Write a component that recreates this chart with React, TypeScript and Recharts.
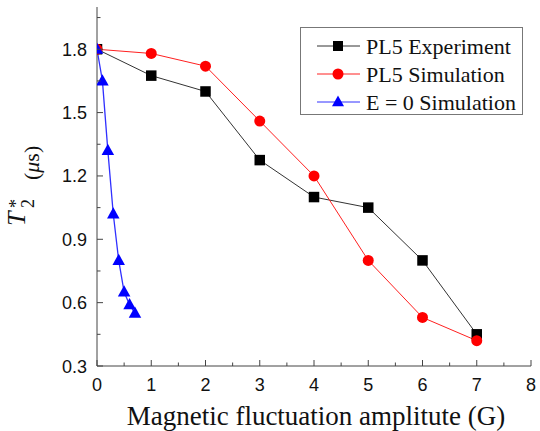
import React from 'react';
import { LineChart, Line, XAxis, YAxis, Legend } from 'recharts';

// ---- data ----
const experimentX = [0, 1, 2, 3, 4, 5, 6, 7];
const experimentY = [1.8, 1.675, 1.6, 1.275, 1.1, 1.05, 0.8, 0.45];

const simulationX = [0, 1, 2, 3, 4, 5, 6, 7];
const simulationY = [1.8, 1.78, 1.72, 1.46, 1.2, 0.8, 0.53, 0.42];

const e0X = [0, 0.1, 0.2, 0.3, 0.4, 0.5, 0.6, 0.7];
const e0Y = [1.8, 1.65, 1.32, 1.02, 0.8, 0.65, 0.59, 0.55];

const xTicks = [0, 0.5, 1, 1.5, 2, 2.5, 3, 3.5, 4, 4.5, 5, 5.5, 6, 6.5, 7, 7.5, 8];
const xMajorTicks = [0, 1, 2, 3, 4, 5, 6, 7, 8];
const yTicks = [0.3, 0.45, 0.6, 0.75, 0.9, 1.05, 1.2, 1.35, 1.5, 1.65, 1.8, 1.95];
const yMajorTicks = [0.3, 0.6, 0.9, 1.2, 1.5, 1.8];

const seriesNames = ['PL5 Experiment', 'PL5 Simulation', 'E = 0 Simulation'];
const xTitle = 'Magnetic fluctuation amplitute (G)';

const toPoints = (xs: number[], ys: number[]) => xs.map((x, i) => ({ x, y: ys[i] }));
const experimentData = toPoints(experimentX, experimentY);
const simulationData = toPoints(simulationX, simulationY);
const e0Data = toPoints(e0X, e0Y);

const SANS = '"Liberation Sans", Arial, sans-serif';
const SERIF = '"Liberation Serif", "Times New Roman", serif';
const AXIS = '#444';
const MAJOR = 6;
const MINOR = 3.5;

const isMajor = (v: number, list: number[]) => list.some((m) => Math.abs(m - v) < 1e-9);

const fmtY = (v: number) => v.toFixed(1);

const BottomTick = (props: any) => {
  const { x, y, payload } = props;
  const major = isMajor(payload.value, xMajorTicks);
  return (
    <g>
      <line x1={x} y1={y} x2={x} y2={y - (major ? MAJOR : MINOR)} stroke={AXIS} strokeWidth={1} />
      {major && (
        <text x={x} y={y + 25} textAnchor="middle" fontFamily={SANS} fontSize={18} fill="#111">
          {payload.value}
        </text>
      )}
    </g>
  );
};

const TopTick = (props: any) => {
  const { x, y, payload } = props;
  const major = isMajor(payload.value, xMajorTicks);
  return <line x1={x} y1={y} x2={x} y2={y + (major ? MAJOR : MINOR)} stroke={AXIS} strokeWidth={1} />;
};

const LeftTick = (props: any) => {
  const { x, y, payload } = props;
  const major = isMajor(payload.value, yMajorTicks);
  return (
    <g>
      <line x1={x} y1={y} x2={x + (major ? MAJOR : MINOR)} y2={y} stroke={AXIS} strokeWidth={1} />
      {major && (
        <text x={x - 10} y={y + 6.5} textAnchor="end" fontFamily={SANS} fontSize={18} fill="#111">
          {fmtY(payload.value)}
        </text>
      )}
    </g>
  );
};

const RightTick = (props: any) => {
  const { x, y, payload } = props;
  const major = isMajor(payload.value, yMajorTicks);
  return <line x1={x} y1={y} x2={x - (major ? MAJOR : MINOR)} y2={y} stroke={AXIS} strokeWidth={1} />;
};

const Square = ({ cx, cy, fill, s = 10.5 }: any) => (
  <rect x={cx - s / 2} y={cy - s / 2} width={s} height={s} fill={fill} />
);
const Circle = ({ cx, cy, fill, r = 5.5 }: any) => <circle cx={cx} cy={cy} r={r} fill={fill} />;
const Triangle = ({ cx, cy, fill, s = 12.5 }: any) => {
  const h = s * 0.9;
  return (
    <polygon
      points={`${cx},${cy - h * 0.6} ${cx - s / 2},${cy + h * 0.4} ${cx + s / 2},${cy + h * 0.4}`}
      fill={fill}
    />
  );
};

const squareDot = (p: any) => <Square key={`sq-${p.index}`} cx={p.cx} cy={p.cy} fill="#000" />;
const circleDot = (p: any) => <Circle key={`ci-${p.index}`} cx={p.cx} cy={p.cy} fill="#ff0000" />;
const triDot = (p: any) => <Triangle key={`tr-${p.index}`} cx={p.cx} cy={p.cy} fill="#0000ff" />;

const YTitle = () => (
  <text transform="rotate(-90)" fontFamily={SERIF} fill="#111" style={{ fontFamily: SERIF }}>
    <tspan x={-226} y={25} fontSize={26} fontStyle="italic">T</tspan>
    <tspan x={-208} y={34} fontSize={18}>2</tspan>
    <tspan x={-208} y={22} fontSize={18}>*</tspan>
    <tspan x={-180} y={39} fontSize={22}>(</tspan>
    <tspan fontSize={22} fontStyle="italic">μ</tspan>
    <tspan fontSize={22}>s)</tspan>
  </text>
);

const XTitle = () => (
  <text x={316} y={425} textAnchor="middle" fontFamily={SERIF} fontSize={27} fill="#111">
    {xTitle}
  </text>
);

const legendColors = ['#333', '#ff2020', '#3030ff'];
const legendMarkerFill = ['#000', '#ff0000', '#0000ff'];

const LegendBox = () => {
  const rows = [19, 47, 75];
  return (
    <svg width={224} height={89} style={{ display: 'block', fontFamily: SERIF }}>
      <rect x={0.5} y={0.5} width={222} height={87} fill="#fff" stroke="#777" strokeWidth={1} />
      {rows.map((cy, i) => (
        <g key={i}>
          <line x1={17} y1={cy} x2={60} y2={cy} stroke={legendColors[i]} strokeWidth={1} />
          {i === 0 && <Square cx={38} cy={cy} fill={legendMarkerFill[i]} s={10} />}
          {i === 1 && <Circle cx={38} cy={cy} fill={legendMarkerFill[i]} r={5.5} />}
          {i === 2 && <Triangle cx={38} cy={cy} fill={legendMarkerFill[i]} s={12} />}
          <text x={66} y={cy + 7.5} fontFamily={SERIF} fontSize={22} fill="#111" style={{ fontFamily: SERIF }}>
            {seriesNames[i]}
          </text>
        </g>
      ))}
    </svg>
  );
};

export default function App() {
  return (
    <div style={{ position: 'absolute', left: 0, top: 0, width: 540, height: 431, background: '#fff' }}>
      <LineChart width={540} height={431} margin={{ top: 7, right: 9, bottom: 0, left: 0 }}>
        <XAxis
          xAxisId="b"
          type="number"
          dataKey="x"
          orientation="bottom"
          domain={[0, 8]}
          ticks={xTicks}
          allowDataOverflow
          height={65}
          tickLine={false}
          tickSize={0}
          tickMargin={0}
          axisLine={{ stroke: AXIS, strokeWidth: 1 }}
          tick={<BottomTick />}
          interval={0}
          label={<XTitle />}
        />
        <XAxis
          xAxisId="t"
          type="number"
          dataKey="x"
          orientation="top"
          domain={[0, 8]}
          ticks={xTicks}
          allowDataOverflow
          height={0}
          tickLine={false}
          tickSize={0}
          tickMargin={0}
          axisLine={{ stroke: AXIS, strokeWidth: 1 }}
          tick={<TopTick />}
          interval={0}
        />
        <YAxis
          yAxisId="l"
          type="number"
          dataKey="y"
          orientation="left"
          domain={[0.3, 2.0]}
          ticks={yTicks}
          allowDataOverflow
          width={97}
          tickLine={false}
          tickSize={0}
          tickMargin={0}
          axisLine={{ stroke: AXIS, strokeWidth: 1 }}
          tick={<LeftTick />}
          interval={0}
          label={<YTitle />}
        />
        <YAxis
          yAxisId="r"
          type="number"
          dataKey="y"
          orientation="right"
          domain={[0.3, 2.0]}
          ticks={yTicks}
          allowDataOverflow
          width={0}
          tickLine={false}
          tickSize={0}
          tickMargin={0}
          axisLine={{ stroke: AXIS, strokeWidth: 1 }}
          tick={<RightTick />}
          interval={0}
        />
        <Legend
          layout="vertical"
          align="center"
          verticalAlign="middle"
          wrapperStyle={{ position: 'absolute', top: 27, left: 300, width: 224, height: 89 }}
          content={() => <LegendBox />}
        />
        <Line
          xAxisId="b"
          yAxisId="l"
          data={experimentData}
          dataKey="y"
          name={seriesNames[0]}
          stroke="#333"
          strokeWidth={1}
          dot={squareDot}
          activeDot={false}
          isAnimationActive={false}
        />
        <Line
          xAxisId="b"
          yAxisId="l"
          data={simulationData}
          dataKey="y"
          name={seriesNames[1]}
          stroke="#ff2020"
          strokeWidth={1}
          dot={circleDot}
          activeDot={false}
          isAnimationActive={false}
        />
        <Line
          xAxisId="b"
          yAxisId="l"
          data={e0Data}
          dataKey="y"
          name={seriesNames[2]}
          stroke="#3030ff"
          strokeWidth={1.3}
          dot={triDot}
          activeDot={false}
          isAnimationActive={false}
        />
      </LineChart>
    </div>
  );
}
